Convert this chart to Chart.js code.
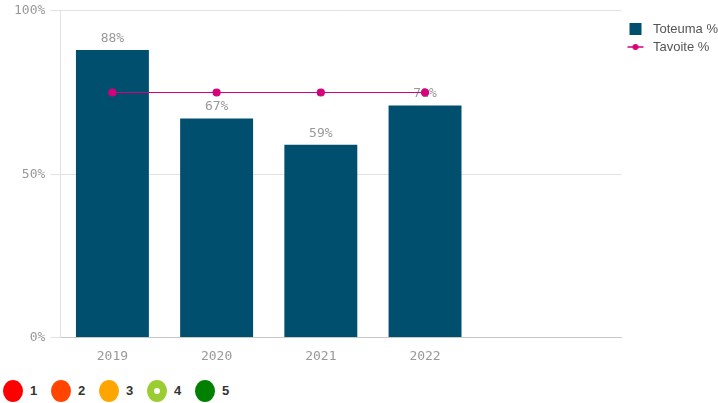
<!DOCTYPE html>
<html>
<head>
<meta charset="utf-8">
<script src="https://cdn.jsdelivr.net/npm/chart.js@4"></script>
<style>
  body { margin: 0; background: #fff; }
  #wrap { position: absolute; left: 0; top: 0; width: 718px; height: 367px; }
  #scale { position: absolute; left: 3px; top: 380px; font-family: "Liberation Sans", Arial, sans-serif;
           font-weight: bold; font-size: 13px; color: #333; }
  .item { position: absolute; top: 0; width: 48px; height: 22px; }
  .dot { position: absolute; left: 0; top: 0; width: 20px; height: 22px; border-radius: 50%; }
  .dot.hollow::after { content: ""; position: absolute; left: 7px; top: 8px; width: 6px; height: 6px;
                       border-radius: 50%; background: #fff; }
  .num { position: absolute; left: 27px; top: 3px; }
</style>
</head>
<body>
<div id="wrap"><canvas id="bar-chart"></canvas></div>
<div id="scale"></div>
<script>
const CATEGORIES = ['2019', '2020', '2021', '2022'];
const TOTEUMA = [88, 67, 59, 71];
const TAVOITE = [75, 75, 75, 75];
const Y_TICKS = [0, 50, 100];
const SCALE_STEPS = ['1', '2', '3', '4', '5'];
const SCALE_COLORS = ['#ff0000', '#ff4500', '#ffa500', '#9acd32', '#008000'];

const BAR_COLOR = '#004f6e';
const LINE_COLOR = '#d6007a';
const MONO = '"DejaVu Sans Mono", monospace';

// bottom colour scale
const scaleBox = document.getElementById('scale');
SCALE_STEPS.forEach((s, i) => {
    const item = document.createElement('div');
    item.className = 'item';
    item.style.left = (i * 48) + 'px';
    const dot = document.createElement('div');
    dot.className = 'dot' + (i === 3 ? ' hollow' : '');
    dot.style.background = SCALE_COLORS[i];
    const num = document.createElement('span');
    num.className = 'num';
    num.textContent = s;
    item.appendChild(dot);
    item.appendChild(num);
    scaleBox.appendChild(item);
});

// legend icons, 20px wide so the text sits further right
function legendIcon(kind){
    const c = document.createElement('canvas');
    c.width = 20; c.height = 12;
    const ctx = c.getContext('2d');
    if (kind === 'bar') {
        ctx.fillStyle = BAR_COLOR;
        ctx.fillRect(3, 0, 12, 12);
    } else {
        ctx.strokeStyle = LINE_COLOR;
        ctx.lineWidth = 1.5;
        ctx.beginPath(); ctx.moveTo(1, 6); ctx.lineTo(17, 6); ctx.stroke();
        ctx.fillStyle = LINE_COLOR;
        ctx.beginPath(); ctx.arc(9, 6, 3, 0, Math.PI * 2); ctx.fill();
    }
    return c;
}

const valueLabels = {
    id: 'valueLabels',
    afterDatasetDraw(chart, args){
        if (args.index !== 0) return;
        const ctx = chart.ctx;
        ctx.save();
        ctx.font = '13px ' + MONO;
        ctx.fillStyle = '#999';
        ctx.textAlign = 'center';
        ctx.textBaseline = 'bottom';
        args.meta.data.forEach((bar, i) => {
            ctx.fillText(TOTEUMA[i] + '%', bar.x, bar.y - 5);
        });
        ctx.restore();
    }
};

const ctx = document.querySelector('#bar-chart').getContext('2d');
const myChart = new Chart(ctx, {
    type: 'bar',
    data: {
        datasets: [{
            label: 'Toteuma %',
            data: TOTEUMA.map((v, i) => ({x: i, y: v})),
            backgroundColor: BAR_COLOR,
            categoryPercentage: 1,
            barPercentage: 0.7,
            order: 1
        }, {
            type: 'line',
            label: 'Tavoite %',
            data: TAVOITE.map((v, i) => ({x: i, y: v})),
            borderColor: LINE_COLOR,
            backgroundColor: LINE_COLOR,
            borderWidth: 1.2,
            pointRadius: 3.5,
            order: 0
        }]
    },
    plugins: [valueLabels],
    options: {
        responsive: true,
        maintainAspectRatio: false,
        animation: false,
        layout: { padding: { top: 4, right: -10, left: 9, bottom: 0 } },
        plugins: {
            tooltip: { enabled: false },
            legend: {
                position: 'right',
                align: 'start',
                title: { display: true, text: '', font: { size: 13.5, lineHeight: 1 } },
                labels: {
                    usePointStyle: true,
                    pointStyleWidth: 20,
                    boxHeight: 12,
                    padding: 5,
                    color: '#555',
                    font: { family: '"Liberation Sans", Arial, sans-serif', size: 13 },
                    generateLabels: () => [
                        { text: 'Toteuma %', pointStyle: legendIcon('bar'), fillStyle: BAR_COLOR, strokeStyle: BAR_COLOR, fontColor: '#555', lineWidth: 0, datasetIndex: 0 },
                        { text: 'Tavoite %', pointStyle: legendIcon('line'), fillStyle: LINE_COLOR, strokeStyle: LINE_COLOR, fontColor: '#555', lineWidth: 0, datasetIndex: 1 }
                    ]
                }
            }
        },
        scales: {
            x: {
                type: 'linear',
                offset: false,
                min: -0.5,
                max: 4.885,
                afterBuildTicks: scale => { scale.ticks = CATEGORIES.map((c, i) => ({value: i})); },
                grid: { display: false },
                border: { display: true, color: '#c8c8c8', width: 1 },
                ticks: {
                    color: '#999',
                    padding: 3,
                    font: { family: MONO, size: 13 },
                    callback: v => CATEGORIES[v]
                }
            },
            y: {
                min: 0,
                max: 100,
                afterBuildTicks: scale => { scale.ticks = Y_TICKS.map(v => ({value: v})); },
                grid: { color: '#e2e2e2', tickLength: 10, tickColor: '#e2e2e2' },
                border: { display: true, color: '#e2e2e2' },
                ticks: {
                    color: '#999',
                    padding: 5,
                    font: { family: MONO, size: 13, lineHeight: 0.9 },
                    callback: v => v + '%'
                }
            }
        }
    }
});
</script>
</body>
</html>
